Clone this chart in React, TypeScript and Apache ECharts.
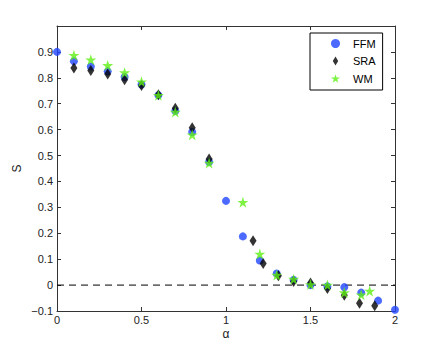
import React, { useEffect, useRef } from "react";
import * as echarts from "echarts";

const alphaFFM = [0, 0.1, 0.2, 0.3, 0.4, 0.5, 0.6, 0.7, 0.8, 0.9, 1.0, 1.1, 1.2, 1.3, 1.4, 1.5, 1.6, 1.7, 1.8, 1.9, 2.0];
const sFFM = [0.9, 0.864, 0.844, 0.825, 0.803, 0.774, 0.733, 0.672, 0.591, 0.475, 0.325, 0.188, 0.095, 0.045, 0.02, 0.0, -0.005, -0.008, -0.029, -0.06, -0.095];

const alphaSRA = [0.1, 0.2, 0.3, 0.4, 0.5, 0.6, 0.7, 0.8, 0.9, 1.16, 1.22, 1.31, 1.4, 1.5, 1.6, 1.7, 1.79, 1.88];
const sSRA = [0.838, 0.828, 0.815, 0.793, 0.77, 0.735, 0.683, 0.607, 0.487, 0.171, 0.083, 0.036, 0.014, 0.008, -0.013, -0.039, -0.07, -0.08];

const alphaWM = [0.1, 0.2, 0.3, 0.4, 0.5, 0.6, 0.7, 0.8, 0.9, 1.1, 1.2, 1.3, 1.4, 1.5, 1.6, 1.7, 1.8, 1.85];
const sWM = [0.887, 0.87, 0.848, 0.82, 0.785, 0.733, 0.668, 0.58, 0.471, 0.32, 0.12, 0.039, 0.023, 0.002, 0.0, -0.029, -0.037, -0.023];

const zeroLineX = [0, 2];
const zeroLineY = [0, 0];

const seriesNames = ["FFM", "SRA", "WM"];

const STAR = "path://M0,-10L2.245,-3.09L9.511,-3.09L3.633,1.18L5.878,8.09L0,3.82L-5.878,8.09L-3.633,1.18L-9.511,-3.09L-2.245,-3.09Z";
const DIAMOND = "path://M0,-10L6,0L0,10L-6,0Z";

const zip = (xs: number[], ys: number[]) => xs.map((x, i) => [x, ys[i]]);

const FONT = "Liberation Sans, Arial, Helvetica, sans-serif";
const AXIS_COLOR = "#333";

export default function App() {
  const ref = useRef<HTMLDivElement>(null);
  useEffect(() => {
    if (!ref.current) return;
    const chart = echarts.init(ref.current, null, { renderer: "svg" });
    const tick = { show: true, inside: true, length: 4, lineStyle: { color: AXIS_COLOR } };
    const line = { show: true, onZero: false, lineStyle: { color: AXIS_COLOR, width: 1 } };
    const label = { color: "#222", fontSize: 11, fontFamily: FONT };
    chart.setOption({
      animation: false,
      backgroundColor: "#fff",
      grid: { left: 57, right: 41, top: 26, bottom: 39, containLabel: false },
      legend: {
        data: [
          { name: "FFM", icon: "circle" },
          { name: "SRA", icon: DIAMOND },
          { name: "WM", icon: STAR },
        ],
        orient: "vertical",
        left: 310,
        top: 33,
        itemWidth: 9,
        itemHeight: 9,
        itemGap: 6.5,
        padding: [5, 7, 6, 21],
        borderColor: "#000",
        borderWidth: 1,
        backgroundColor: "#fff",
        textStyle: { fontSize: 11, fontFamily: FONT, color: "#000", padding: [0, 0, 0, 8] },
        selectedMode: false,
      },
      xAxis: [
        {
          type: "value",
          min: 0,
          max: 2,
          interval: 0.5,
          position: "bottom",
          name: "α",
          nameLocation: "middle",
          nameGap: 17,
          nameMoveOverlap: false,
          nameTextStyle: { fontSize: 12, fontFamily: FONT, color: "#222" },
          axisLine: line,
          axisTick: tick,
          axisLabel: { ...label, margin: 3 },
          splitLine: { show: false },
        },
        {
          type: "value",
          min: 0,
          max: 2,
          interval: 0.5,
          position: "top",
          axisLine: line,
          axisTick: tick,
          axisLabel: { show: false },
          splitLine: { show: false },
        },
      ],
      yAxis: [
        {
          type: "value",
          min: -0.1,
          max: 1.0,
          interval: 0.1,
          position: "left",
          name: "S",
          nameLocation: "middle",
          nameGap: 34,
          nameMoveOverlap: false,
          nameRotate: 90,
          nameTextStyle: { fontSize: 12, fontFamily: FONT, color: "#222" },
          axisLine: line,
          axisTick: tick,
          axisLabel: {
            ...label,
            margin: 4,
            showMaxLabel: false,
            formatter: (v: number) => {
              const r = Math.round(v * 10) / 10;
              if (r >= 1) return "";
              return String(r).replace("-", "\u2212");
            },
          },
          splitLine: { show: false },
        },
        {
          type: "value",
          min: -0.1,
          max: 1.0,
          interval: 0.1,
          position: "right",
          axisLine: line,
          axisTick: tick,
          axisLabel: { show: false },
          splitLine: { show: false },
        },
      ],
      series: [
        {
          type: "line",
          data: zip(zeroLineX, zeroLineY),
          symbol: "none",
          silent: true,
          lineStyle: { color: "#000", width: 1, type: [7, 5] },
          z: 1,
        },
        {
          name: seriesNames[0],
          type: "scatter",
          data: zip(alphaFFM, sFFM),
          symbol: "circle",
          symbolSize: 8,
          itemStyle: { color: "#1f45ff" },
          z: 2,
        },
        {
          name: seriesNames[1],
          type: "scatter",
          data: zip(alphaSRA, sSRA),
          symbol: DIAMOND,
          symbolSize: [7, 11],
          itemStyle: { color: "#000" },
          z: 3,
        },
        {
          name: seriesNames[2],
          type: "scatter",
          data: zip(alphaWM, sWM),
          symbol: STAR,
          symbolSize: 11,
          itemStyle: { color: "#5ff014" },
          z: 4,
        },
      ],
    });
    return () => chart.dispose();
  }, []);
  return <div ref={ref} style={{ width: 436, height: 350, margin: -8 }} />;
}
